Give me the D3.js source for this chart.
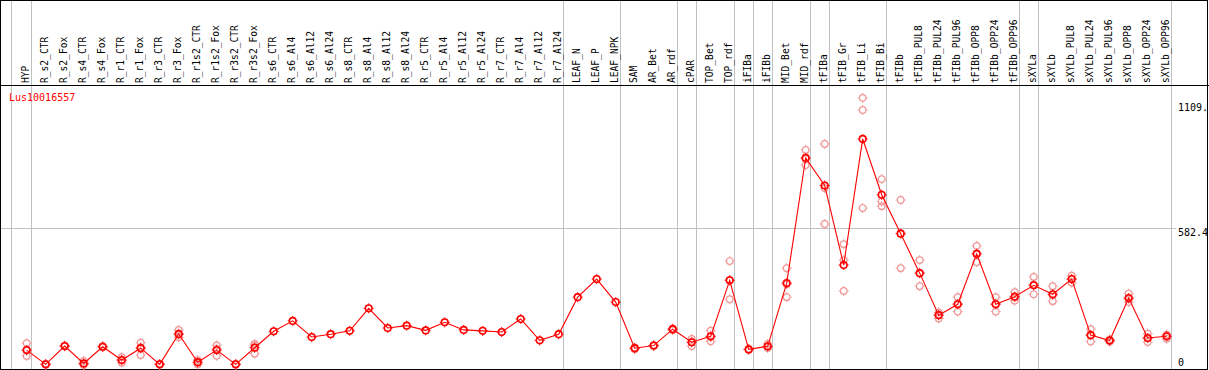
<!DOCTYPE html>
<html>
<head>
<meta charset="utf-8">
<script src="https://cdn.jsdelivr.net/npm/d3@7"></script>
<style>
  html, body { margin: 0; padding: 0; background: #fff; }
  svg { display: block; }
  text { font-family: "DejaVu Sans Mono", "Liberation Mono", monospace; }
</style>
</head>
<body>
<svg id="chart" width="1209" height="370"></svg>
<script>
const categories = ["HYP","R_s2_CTR","R_s2_Fox","R_s4_CTR","R_s4_Fox","R_r1_CTR","R_r1_Fox","R_r3_CTR","R_r3_Fox","R_r1s2_CTR","R_r1s2_Fox","R_r3s2_CTR","R_r3s2_Fox","R_s6_CTR","R_s6_Al4","R_s6_Al12","R_s6_Al24","R_s8_CTR","R_s8_Al4","R_s8_Al12","R_s8_Al24","R_r5_CTR","R_r5_Al4","R_r5_Al12","R_r5_Al24","R_r7_CTR","R_r7_Al4","R_r7_Al12","R_r7_Al24","LEAF_N","LEAF_P","LEAF_NPK","SAM","AR_Bet","AR_rdf","cPAR","TOP_Bet","TOP_rdf","iFIBa","iFIBb","MID_Bet","MID_rdf","tFIBa","tFIB_Gr","tFIB_Li","tFIB_Bi","tFIBb","tFIBb_PUL8","tFIBb_PUL24","tFIBb_PUL96","tFIBb_OPP8","tFIBb_OPP24","tFIBb_OPP96","sXYLa","sXYLb","sXYLb_PUL8","sXYLb_PUL24","sXYLb_PUL96","sXYLb_OPP8","sXYLb_OPP24","sXYLb_OPP96"];

const meanValues = [67,7,84,11,81,25,75,7,135,16,67,7,77,146,190,122,134,148,243,160,170,150,184,152,148,143,198,108,134,290,366,269,75,86,155,100,125,361,70,83,349,876,760,425,956,721,557,391,214,260,472,260,292,340,302,366,130,107,286,118,125];

const replicateValues = [
  [96,65,42],[9,7,5],[86,84,83],[22,8,4],[84,81,79],[37,25,14],[98,79,46],[9,7,5],[152,132,121],[25,14,7],[87,72,43],[9,7,5],[93,87,52],
  [],[],[],[],[],[],[],[],[],[],[],[],[],[],[],[],[],[],[],
  [78,74,71],[88,85,84],[158,155,151],[114,101,84],[149,122,104],[442,361,281],[72,70,68],[93,81,76],[412,344,290],[910,872,846],[935,749,598],[513,446,316],[1129,1078,665],[787,693,673],[699,559,412],[446,391,336],[226,216,200],[290,262,229],[506,474,437],[290,262,229],[311,290,275],[375,343,302],[336,298,273],[380,366,351],[155,131,103],[112,105,103],[305,283,269],[136,117,101],[132,128,115]
];

const seriesName = "Lus10016557";
const axisTicks = [1109.5, 582.4, 0];
const axisTickLabels = ["1109.", "582.4", "0"];
const separatorsAfter = [0,28,31,34,35,37,38,39,41,42,45,52,53,60];

const W = 1209, H = 370;
const svg = d3.select("#chart");

const x = d3.scalePoint().domain(categories).range([26.7, 1166.7]);
const step = x.step();
const y = d3.scaleLinear().domain([0, 1109.5]).range([366, 102.5]);

// grid
const grid = svg.append("g").attr("shape-rendering", "crispEdges");
grid.append("line")
  .attr("x1", 1).attr("x2", 1176)
  .attr("y1", Math.round(y(582.4)) + 0.5).attr("y2", Math.round(y(582.4)) + 0.5)
  .attr("stroke", "#c0c0c0");
const sepX = [x(categories[0]) - 16].concat(separatorsAfter.map(i => x(categories[i]) + 4));
grid.selectAll("line.v").data(sepX).join("line")
  .attr("class", "v")
  .attr("x1", d => Math.round(d) + 0.5).attr("x2", d => Math.round(d) + 0.5)
  .attr("y1", 0).attr("y2", H)
  .attr("stroke", "#c0c0c0");

// header labels
svg.append("g").selectAll("text").data(categories).join("text")
  .attr("transform", d => `translate(${x(d) - 1},83) rotate(-90)`)
  .attr("dy", "0.35em")
  .attr("font-size", "9.6px")
  .attr("fill", "#000")
  .text(d => d);

// frame
const frame = svg.append("g").attr("shape-rendering", "crispEdges");
frame.append("rect").attr("x", 0.5).attr("y", 0.5).attr("width", 1207).attr("height", 369)
  .attr("fill", "none").attr("stroke", "#000");
frame.append("line").attr("x1", 0).attr("x2", W).attr("y1", 85.5).attr("y2", 85.5).attr("stroke", "#000");

// series name
svg.append("text").attr("x", 9).attr("y", 97).attr("dy", "0.35em")
  .attr("font-size", "10px").attr("fill", "#ff0000").text(seriesName);

// right axis labels
svg.append("g").selectAll("text").data(axisTicks).join("text")
  .attr("x", 1178)
  .attr("y", d => Math.min(y(d) + 4.5, 362))
  .attr("dy", "0.35em")
  .attr("font-size", "10px")
  .attr("fill", "#000")
  .text((d, i) => axisTickLabels[i]);

function marker(g, color, sw) {
  g.append("circle").attr("r", 3.3).attr("fill", "none").attr("stroke", color).attr("stroke-width", sw);
  const t = [[0,-3.3,0,-5],[0,3.3,0,5],[-3.3,0,-5,0],[3.3,0,5,0]];
  t.forEach(s => g.append("line").attr("x1", s[0]).attr("y1", s[1]).attr("x2", s[2]).attr("y2", s[3])
    .attr("stroke", color).attr("stroke-width", 1));
}

// replicates
const reps = [];
replicateValues.forEach((arr, i) => arr.forEach(v => reps.push({c: categories[i], v})));
const repG = svg.append("g");
repG.selectAll("g").data(reps).join("g")
  .attr("transform", d => `translate(${x(d.c)},${y(d.v)})`)
  .each(function() { marker(d3.select(this), "#f09a9a", 1.2); });

// line of means
const pts = categories.map((c, i) => ({c, v: meanValues[i]}));
svg.append("path").datum(pts)
  .attr("fill", "none").attr("stroke", "#ff0000").attr("stroke-width", 1.1)
  .attr("d", d3.line().x(d => x(d.c)).y(d => y(d.v)));

svg.append("g").selectAll("g").data(pts).join("g")
  .attr("transform", d => `translate(${x(d.c)},${y(d.v)})`)
  .each(function() { marker(d3.select(this), "#ff0000", 1.6); });
</script>
</body>
</html>
